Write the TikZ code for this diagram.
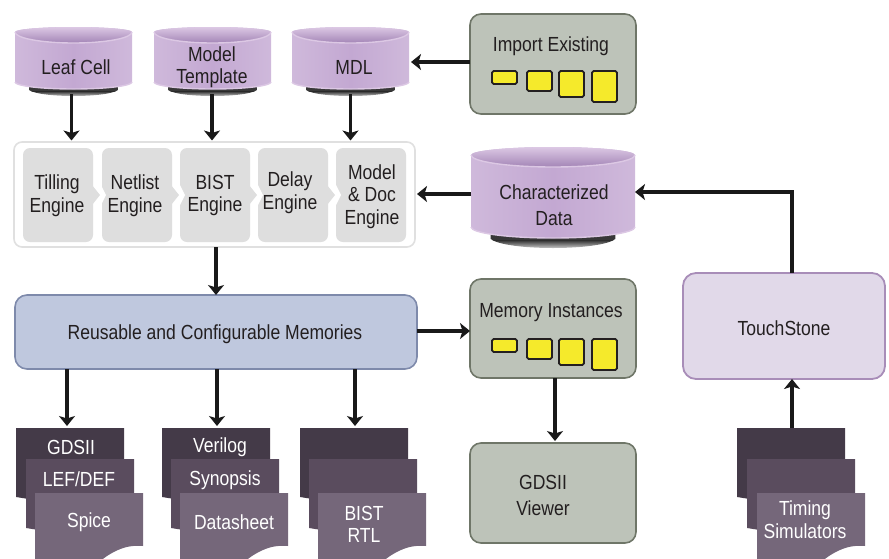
\documentclass[tikz,border=0pt]{standalone}
\usepackage{fontspec}
\setmainfont[FakeStretch=0.86]{Liberation Sans}
\usetikzlibrary{arrows.meta}
\definecolor{cylbody}{HTML}{C3A8D2}
\definecolor{cylside}{HTML}{CFB9DB}
\definecolor{cyllight}{HTML}{DCC8E4}
\definecolor{cyldark}{HTML}{A385B6}
\definecolor{boxgreen}{HTML}{BDC3B9}
\definecolor{boxedge}{HTML}{6F7668}
\definecolor{memfill}{HTML}{BFC8DE}
\definecolor{memedge}{HTML}{7E8AAB}
\definecolor{tsfill}{HTML}{E1D9E9}
\definecolor{tsedge}{HTML}{A88DB8}
\definecolor{enggray}{HTML}{DEDEDE}
\definecolor{doca}{HTML}{443A48}
\definecolor{docb}{HTML}{5A4C5E}
\definecolor{docc}{HTML}{75677A}
\definecolor{ylw}{HTML}{F5EA2B}
\definecolor{txt}{HTML}{231F20}
\tikzset{
  x=1pt,y=-1pt,
  every node/.style={inner sep=0pt,outer sep=0pt},
  lbl/.style={font=\fontsize{20.4}{22.5}\selectfont,align=center,text=txt},
  wlbl/.style={lbl,text=white},
  arr/.style={line width=3.2pt,black!90,-{Stealth[length=10pt,width=16pt,inset=2.5pt]}},
  plain/.style={draw=none,fill=none},
  green/.style={draw=boxedge,line width=1.6pt,fill=boxgreen,rounded corners=11pt},
  engine/.style={fill=enggray,rounded corners=7pt},
  yl/.style={draw=txt,line width=1.8pt,fill=ylw,rounded corners=1.6pt},
}
% #1 style, #2 name, #3 x0, #4 y0, #5 x1, #6 y1
\newcommand\bx[6]{\node[#1,minimum width={(#5-#3)*1pt},minimum height={(#6-#4)*1pt}] (#2) at ({(#3+#5)/2},{(#4+#6)/2}) {};}
% cylinder: #1 name, #2 x0, #3 x1, #4 ellipse top, #5 side top, #6 rim low, #7 side bottom, #8 arc bottom, #9 shadow bottom
\newcommand\cyl[9]{%
  \pgfmathsetmacro\cxm{(#2+#3)/2}%
  \pgfmathsetmacro\hw{(#3-#2)/2}%
  \pgfmathsetmacro\shw{(#3-#2)*0.38}%
  \pgfmathsetmacro\ra{#6-#5}%
  \pgfmathsetmacro\rb{#5-#4}%
  \pgfmathsetmacro\rc{#8-#7}%
  \begin{scope}
    \clip (\cxm-\shw,#7) -- (\cxm+\shw,#7) -- (\cxm+\shw,#8+1) .. controls (\cxm+\shw*0.75,#9+1) and (\cxm-\shw*0.75,#9+1) .. (\cxm-\shw,#8+1) -- cycle;
    \fill[black!78] (#2,#7) rectangle (#3,#8+2.5);
    \shade[top color=black!78,bottom color=white] (#2,#8+2.5) rectangle (#3,#9+1);
  \end{scope}
  \shade[left color=cylside,right color=cylside,middle color=cylbody] (#2,#5) -- (#2,#7) arc [start angle=180,end angle=360,x radius=\hw,y radius=-\rc] -- (#3,#5) arc [start angle=0,end angle=180,x radius=\hw,y radius=-\rb] -- cycle;
  \draw[cyllight,line width=1.4pt] (#2,#7) arc [start angle=180,end angle=360,x radius=\hw,y radius=-\rc];
  \shade[top color=cyllight,bottom color=cyldark] (#2,#5) arc [start angle=180,end angle=0,x radius=\hw,y radius=-\rb] arc [start angle=0,end angle=-180,x radius=\hw,y radius=-\ra] -- cycle;
  \draw[cyllight,line width=1.4pt] (#2,#5) arc [start angle=180,end angle=360,x radius=\hw,y radius=-\ra];
  \bx{plain}{#1}{#2}{#4}{#3}{#9}%
}
\newcommand\docshape[5]{% #1 colour, #2 x0, #3 y0, #4 x1, #5 y1 (right edge end)
  \fill[#1] (#2,#3) -- (#4,#3) -- (#4,#5) .. controls (#4-12,#5-1) and (#4-22,#5+1) .. (#4-36,#5+10) .. controls (#4-45,#5+15) and (#4-70,#5+10) .. (#2,#5+4) -- cycle;
}
\newcommand\frontdoc[2]{% x0, x1
  \fill[docc] (#1,493) -- (#2,493) -- (#2,546) .. controls (#2-12,545) and (#2-22,547) .. (#2-36,556) -- (#2-50,566) -- (#1,566) -- cycle;
}
\newcommand\stack[3]{% x0 of back, x0 of mid, x0 of front (width 108)
  \docshape{doca}{#1}{428}{#1+108}{493}
  \docshape{docb}{#2}{459}{#2+108}{524}
  \frontdoc{#3}{#3+108}
}
\newcommand\chev[1]{% #1 right edge of left box
  \fill[enggray] (#1-1,185) -- (#1+7,195) -- (#1-1,205) -- cycle;
  \fill[white] (#1+8,185) -- (#1+13,195) -- (#1+8,205) -- cycle;
}
\begin{document}
\begin{tikzpicture}
\useasboundingbox (0,0) rectangle (889,558);
\clip (0,0) rectangle (889,558);
% cylinders
\cyl{leaf}{15}{132}{27}{32}{43}{82}{89}{97}
\cyl{tmpl}{154}{271}{27}{32}{43}{82}{89}{97}
\cyl{mdl}{292}{409}{27}{32}{43}{82}{89}{97}
\cyl{chr}{471}{635}{147}{155}{167}{227}{238}{250}
\node[lbl] (leaft) at (76,67) {Leaf Cell};
\node[lbl] (tmplt) at (212,67) {Model\\Template};
\node[lbl] (mdlt) at (354,67) {MDL};
\node[lbl] (chrt) at (554,205) {Characterized\\[3.5pt]Data};
% engines
\bx{draw=black!12,line width=1.6pt,fill=white,rounded corners=8pt}{eng}{14}{142}{415}{247}
\bx{engine}{e1}{23}{148}{93}{242}
\bx{engine}{e2}{102}{148}{172}{242}
\bx{engine}{e3}{180}{148}{250}{242}
\bx{engine}{e4}{258}{148}{328}{242}
\bx{engine}{e5}{336}{148}{406}{242}
\chev{93}
\chev{172}
\chev{250}
\chev{328}
\node[lbl] (e1t) at (57,195.5) {Tilling\\Engine};
\node[lbl] (e2t) at (135,195.5) {Netlist\\Engine};
\node[lbl] (e3t) at (215,195.5) {BIST\\Engine};
\node[lbl] (e4t) at (290,192.5) {Delay\\Engine};
\node[lbl] (e5t) at (372,196.5) {Model\\\&\ Doc\\Engine};
% memories
\bx{draw=memedge,line width=1.6pt,fill=memfill,rounded corners=12pt}{mem}{15}{295}{417}{369}
\node[lbl] (memt) at (215,334) {Reusable and Configurable Memories};
% right boxes
\bx{green}{imp}{470}{14}{636}{114}
\node[lbl] (impt) at (551,46.5) {Import Existing};
\bx{yl}{ia}{492}{71}{517}{84}
\bx{yl}{ib}{527}{71}{552}{91}
\bx{yl}{ic}{559}{71}{584}{97}
\bx{yl}{id}{592}{71}{617}{102}
\bx{green}{ins}{470}{279}{636}{378}
\node[lbl] (inst) at (551,313) {Memory Instances};
\bx{yl}{ja}{492}{339}{517}{352}
\bx{yl}{jb}{527}{339}{552}{359}
\bx{yl}{jc}{559}{339}{584}{365}
\bx{yl}{jd}{592}{339}{617}{370}
\bx{green}{view}{470}{443}{636}{543}
\node[lbl] (viewt) at (543,495) {GDSII\\[3.5pt]Viewer};
\bx{draw=tsedge,line width=1.8pt,fill=tsfill,rounded corners=13pt}{ts}{683}{273}{885}{379}
\node[lbl] (tst) at (784,328) {TouchStone};
% document stacks
\stack{16}{26}{35}
\stack{162}{171}{180}
\stack{300}{309}{318}
\stack{737}{747}{757}
\bx{plain}{d1}{16}{428}{124}{558}
\bx{plain}{d2}{162}{428}{270}{558}
\bx{plain}{d3}{300}{428}{408}{558}
\bx{plain}{d4}{737}{428}{845}{558}
\node[wlbl] at (71,447) (g1) {GDSII};
\node[wlbl] at (79,479) (g2) {LEF/DEF};
\node[wlbl] at (89,522) (g3) {Spice};
\node[wlbl] at (220,447.5) (v1) {Verilog};
\node[wlbl] at (225,480) (v2) {Synopsis};
\node[wlbl] at (234,522) (v3) {Datasheet};
\node[wlbl] at (364,524.5) (b3) {BIST\\RTL};
\node[wlbl] at (805,519.5) (t3) {Timing\\Simulators};
% connectors
\draw[arr] ([xshift=-2pt,yshift=3pt]leaf.south) -- ([xshift=-2pt,yshift=1.5pt]leaf.south |- eng.north);
\draw[arr] ([xshift=-0.5pt,yshift=3pt]tmpl.south) -- ([xshift=-0.5pt,yshift=1.5pt]tmpl.south |- eng.north);
\draw[arr] ([yshift=3pt]mdl.south) -- ([yshift=1.5pt]mdl.south |- eng.north);
\draw[arr] ([xshift=1.5pt]eng.south) -- ([xshift=1.5pt]eng.south |- mem.north);
\draw[arr] (mem.south -| d1.north) ++(-3pt,0) -- ++(0,57);
\draw[arr] (mem.south -| d2.north) ++(1pt,0) -- ++(0,57);
\draw[arr] (mem.south -| d3.north) ++(1pt,0) -- ++(0,57);
\draw[arr] (imp.west |- mdl.center) -- ++(-59,0);
\draw[arr] (chr.west |- eng.center) ++(0,-0.5) -- ++(-54,0);
\draw[arr] (mem.east) ++(0,-1) -- (ins.west |- 0,331);
\draw[arr] ([xshift=2pt]ins.south) -- ([xshift=2pt,yshift=2pt]view.north);
\draw[arr] (ts.north -| d4.north) ++(1pt,0) -- ++(0,-81) -- (chr.east |- 0,192);
\draw[arr] (d4.north) ++(1pt,0) -- (ts.south -| 792,0);
\end{tikzpicture}
\end{document}
